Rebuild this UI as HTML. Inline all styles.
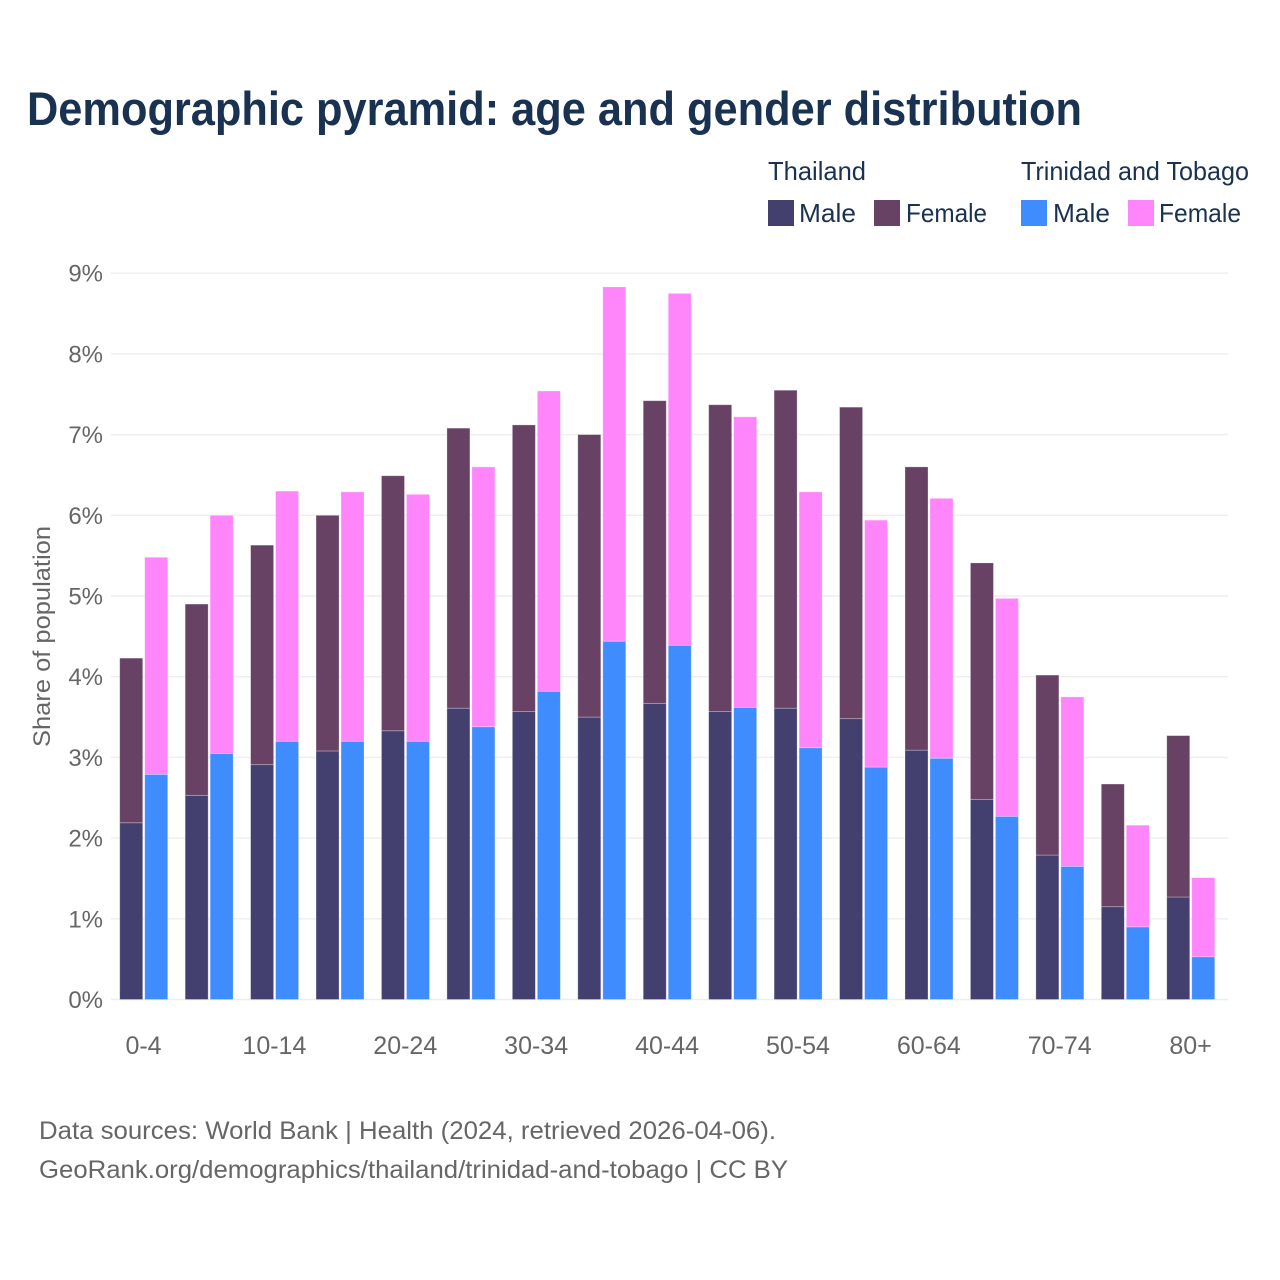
<!DOCTYPE html>
<html lang="en">
<head>
<meta charset="utf-8">
<title>Demographic pyramid: age and gender distribution</title>
<style>
html,body{margin:0;padding:0;background:#fff;}
svg{display:block;}
text{font-family:"Liberation Sans",sans-serif;}
</style>
</head>
<body>
<svg id="chart" width="1280" height="1280" viewBox="0 0 1280 1280" xmlns="http://www.w3.org/2000/svg">
<rect width="1280" height="1280" fill="#ffffff"/>
<text x="27" y="125" font-size="47" font-weight="700" fill="#1a3252" textLength="1055" lengthAdjust="spacingAndGlyphs">Demographic pyramid: age and gender distribution</text>

<g font-size="26" fill="#1a3252">
<text x="768" y="180" textLength="98" lengthAdjust="spacingAndGlyphs">Thailand</text>
<text x="1021" y="180" textLength="228" lengthAdjust="spacingAndGlyphs">Trinidad and Tobago</text>
<rect x="768" y="200" width="26" height="26" fill="#434070"/>
<text x="799" y="222" textLength="57" lengthAdjust="spacingAndGlyphs">Male</text>
<rect x="874" y="200" width="26" height="26" fill="#674264"/>
<text x="906" y="222" textLength="81" lengthAdjust="spacingAndGlyphs">Female</text>
<rect x="1021" y="200" width="26" height="26" fill="#3f8cff"/>
<text x="1053" y="222" textLength="57" lengthAdjust="spacingAndGlyphs">Male</text>
<rect x="1128" y="200" width="26" height="26" fill="#ff85fa"/>
<text x="1159" y="222" textLength="82" lengthAdjust="spacingAndGlyphs">Female</text>
</g>

<g id="grid"></g>
<g id="yticks"></g>
<g id="bars"></g>
<g id="xticks"></g>

<text transform="translate(50,747) rotate(-90)" font-size="24" fill="#666666" textLength="221" lengthAdjust="spacingAndGlyphs">Share of population</text>

<text x="39" y="1139" font-size="25" fill="#666666" textLength="737" lengthAdjust="spacingAndGlyphs">Data sources: World Bank | Health (2024, retrieved 2026-04-06).</text>
<text x="39" y="1178" font-size="25" fill="#666666" textLength="749" lengthAdjust="spacingAndGlyphs">GeoRank.org/demographics/thailand/trinidad-and-tobago | CC BY</text>
</svg>

<script>
const categories = ["0-4","5-9","10-14","15-19","20-24","25-29","30-34","35-39","40-44","45-49","50-54","55-59","60-64","65-69","70-74","75-79","80+"];
const thailandMale = [2.19,2.53,2.91,3.08,3.33,3.61,3.57,3.50,3.67,3.57,3.61,3.48,3.09,2.48,1.79,1.15,1.27];
const thailandFemale = [2.04,2.37,2.72,2.92,3.16,3.47,3.55,3.50,3.75,3.80,3.94,3.86,3.51,2.93,2.23,1.52,2.00];
const trinidadMale = [2.79,3.05,3.20,3.20,3.20,3.38,3.82,4.44,4.39,3.62,3.12,2.88,2.99,2.27,1.65,0.90,0.53];
const trinidadFemale = [2.69,2.95,3.10,3.09,3.06,3.22,3.72,4.39,4.36,3.60,3.17,3.06,3.22,2.70,2.10,1.26,0.98];
const yTickValues = [0,1,2,3,4,5,6,7,8,9];

const NS = "http://www.w3.org/2000/svg";
const plotLeft = 111, plotRight = 1228;
const baseY = 999.5, pxPerUnit = 80.7;
const groupStart = 111.3, groupStep = 65.44, barWidth = 23, barGap = 2;

function yScale(v){ return baseY - v * pxPerUnit; }
function groupCenter(i){ return groupStart + groupStep * (i + 0.5); }

function make(tag, attrs, parent){
  const el = document.createElementNS(NS, tag);
  for (const k in attrs) el.setAttribute(k, attrs[k]);
  parent.appendChild(el);
  return el;
}

const gridG = document.getElementById("grid");
const yG = document.getElementById("yticks");
yTickValues.forEach(function(v){
  const line = make("line", {x1:plotLeft, x2:plotRight, y1:yScale(v), y2:yScale(v), stroke:"#eeeeee", "stroke-width":1.4}, gridG);
  
  
  const t = make("text", {x:103, y:yScale(v)+8.5, "text-anchor":"end", "font-size":24, fill:"#666666"}, yG);
  t.textContent = v + "%";
  
  
});

const barsG = document.getElementById("bars");
function drawBar(x, bottom, value, fill){
  const top = yScale(bottom + value);
  const r = make("rect", {x:x, y:top, width:barWidth, height:yScale(bottom)-top, fill:fill, stroke:"#ffffff", "stroke-opacity":0.35, "stroke-width":0.8}, barsG);
  
  
}
categories.forEach(function(c, i){
  const cx = groupCenter(i);
  const xA = cx - barWidth - barGap/2 - 0.3;
  const xB = cx + barGap/2 - 0.3;
  drawBar(xA, 0, thailandMale[i], "#434070");
  drawBar(xA, thailandMale[i], thailandFemale[i], "#674264");
  drawBar(xB, 0, trinidadMale[i], "#3f8cff");
  drawBar(xB, trinidadMale[i], trinidadFemale[i], "#ff85fa");
});

const xG = document.getElementById("xticks");
categories.forEach(function(c, i){
  if (i % 2 !== 0) return;
  const t = make("text", {x:groupCenter(i) - 0.5, y:1054, "text-anchor":"middle", "font-size":25, fill:"#666666"}, xG);
  t.textContent = c;
  
  
});
</script>
</body>
</html>
